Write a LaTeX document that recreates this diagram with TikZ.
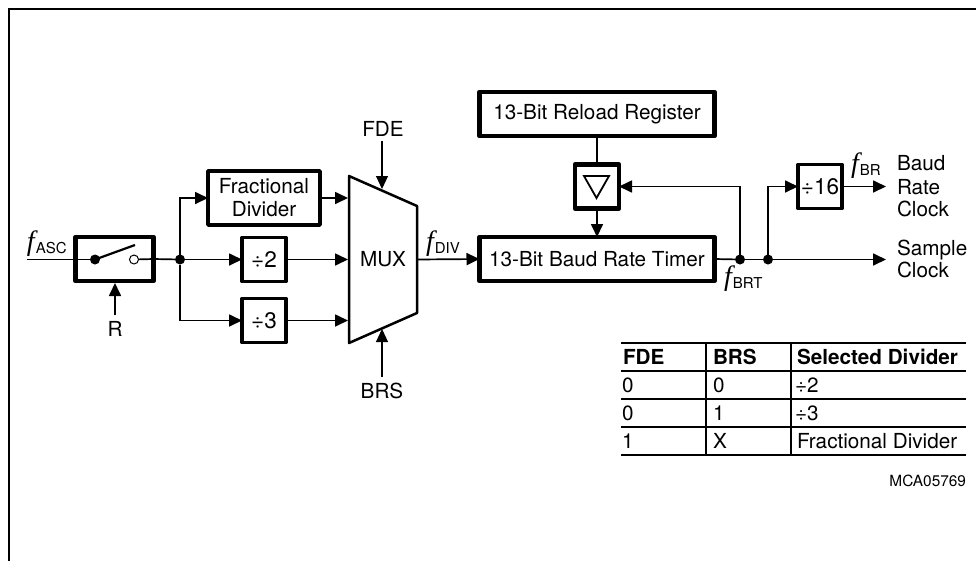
\documentclass[tikz,border=0pt]{standalone}
\usepackage{fontspec}
\setmainfont{TeX Gyre Heros}
\newfontfamily\itf{Liberation Serif}[ItalicFont={Liberation Serif Italic}]
\usetikzlibrary{arrows.meta}
\newcommand{\freq}[1]{{\fontsize{28}{28}\selectfont\itf\itshape f}\kern1pt\raisebox{-3pt}{\fontsize{15}{16}\selectfont #1}}
\tikzset{
  x=1pt,y=-1pt,
  every node/.style={font=\fontsize{20.7}{23}\selectfont,inner sep=0pt,outer sep=0pt},
  box/.style={draw,line width=3.5pt,line join=round,minimum width=#1,minimum height=44pt,align=center},
  box/.default=44pt,
  heavy/.style={line width=4.5pt},
  divtext/.style={font=\fontsize{22.5}{24}\selectfont},
  wire/.style={line width=1.7pt},
  arr/.style={line width=1.7pt,-{Triangle[length=13pt,width=12pt]}},
  thinarr/.style={line width=1.1pt,-{Triangle[length=13pt,width=12pt]}},
  dotn/.style={circle,fill=black,minimum size=10pt},
  lbl/.style={anchor=base west},
  tb/.style={line width=1.5pt},
  tbl/.style={font=\fontsize{20.7}{23}\selectfont,anchor=base west},
  tbh/.style={font=\fontsize{20.7}{23}\selectfont\bfseries,anchor=base west}
}
\begin{document}
\begin{tikzpicture}
\useasboundingbox (0,0) rectangle (976,560);
\draw[line width=2.5pt] (9,570) -- (9,9) -- (986,9);
% boxes
\node[box=78pt,heavy] (sw) at (114.5,259) {};
\node[box=112pt,minimum height=54pt] (frac) at (264,198) {Fractional\\Divider};
\node[box,divtext] (d2) at (264,259.5) {÷2};
\node[box,divtext] (d3) at (264,320.5) {÷3};
\node[box=235pt,heavy] (reload) at (597,114) {13-Bit Reload Register};
\node[box=235pt,heavy] (timer) at (597,259) {13-Bit Baud Rate Timer};
\node[box,heavy] (tri) at (597,186.5) {};
\node[box,divtext] (d16) at (820,186.5) {÷16};
% switch
\coordinate (fa) at (27,259.5);
\node[dotn] (sa) at (95,259.5) {};
\node[circle,draw,line width=1pt,minimum size=9pt,fill=white] (sb) at (134,259.5) {};
\coordinate (sc) at (135,245);
\draw[line width=2.2pt] (sa.center) -- (sc);
\draw[wire] (fa) -- (sa);
\draw[wire] (sb) -- (sw.east);
\node[dotn] (j1) at (180,259.5) {};
\draw[wire] (sw.east) -- (j1);
\draw[arr] (j1) |- (frac.west);
\draw[arr] (j1) -- (d2.west);
\draw[arr] (j1) |- (d3.west);
\node (r) at (115,329) {R};
\coordinate (swb) at (115,283);
\draw[arr] (r.north) ++(0,-6) -- (swb);
% mux
\coordinate (m1) at (349,176); \coordinate (m2) at (417,206);
\coordinate (m3) at (417,313); \coordinate (m4) at (349,343);
\draw[line width=2.5pt,line join=round] (m1) -- (m2) -- (m3) -- (m4) -- cycle;
\node (mux) at (383,259.5) {MUX};
\coordinate (ma) at (348,198); \coordinate (mb) at (348,259.5); \coordinate (mc) at (348,320.5);
\coordinate (mo) at (417,259.5);
\draw[arr] (frac.east) -- (ma);
\draw[arr] (d2.east) -- (mb);
\draw[arr] (d3.east) -- (mc);
\node (fde) at (383,129) {FDE};
\node (brs) at (382,391) {BRS};
\coordinate (mt) at (382,189); \coordinate (mu) at (382,329);
\draw[thinarr] (382,141) coordinate (fdeb) -- (mt);
\draw[thinarr] (382,377) coordinate (brst) -- (mu);
\draw[arr] (mo) -- (timer.west);
\node[lbl] (fdiv) at (426,250) {\freq{DIV}};
\node[lbl] (fasc) at (27,250) {\freq{ASC}};
% reload
\draw[line width=1.1pt] (reload.south) -- (tri.north);
\draw[line width=1.8pt,line join=miter] (584,176) -- (609,176) -- (596.5,198) -- cycle;
\draw[arr] (tri.south) -- (timer.north);
% outputs
\node[dotn] (j2) at (740,259.5) {};
\node[dotn] (j3) at (768,259.5) {};
\coordinate (o1) at (886,259.5); \coordinate (o2) at (886,186.5);
\draw[wire] (timer.east) -- (j2);
\draw[wire] (j2) -- (j3);
\draw[arr] (j3) -- (o1);
\draw[arr] (j2) |- (tri.east);
\draw[arr] (j3) |- (d16.west);
\draw[arr] (d16.east) -- (o2);
\node[lbl] (fbrt) at (724,285) {\freq{BRT}};
\node[lbl] (fbr) at (851,172) {\freq{BR}};
\node[lbl] (t1) at (897,170) {Baud};
\node[lbl] (t2) at (897,194) {Rate};
\node[lbl] (t3) at (897,216) {Clock};
\node[lbl] (t4) at (897,255) {Sample};
\node[lbl] (t5) at (897,277) {Clock};
% table
\foreach \yy in {343,371,399,427,455} \draw[tb] (621,\yy) -- (966,\yy);
\draw[tb] (706,343) -- (706,455);
\draw[tb] (791,343) -- (791,455);
\node[tbh] (h1) at (623,364) {FDE};
\node[tbh] (h2) at (713,364) {BRS};
\node[tbh] (h3) at (797,364) {Selected Divider};
\node[tbl] (a1) at (622,392) {0};
\node[tbl] (a2) at (713,392) {0};
\node[tbl] (a3) at (795,392) {÷2};
\node[tbl] (b1) at (622,420) {0};
\node[tbl] (b2) at (713,420) {1};
\node[tbl] (b3) at (795,420) {÷3};
\node[tbl] (c1) at (622,448) {1};
\node[tbl] (c2) at (713,448) {X};
\node[tbl] (c3) at (797,448) {Fractional Divider};
\node[font=\fontsize{15.4}{17}\selectfont,anchor=base east] (mca) at (966,486) {MCA05769};
\end{tikzpicture}
\end{document}
